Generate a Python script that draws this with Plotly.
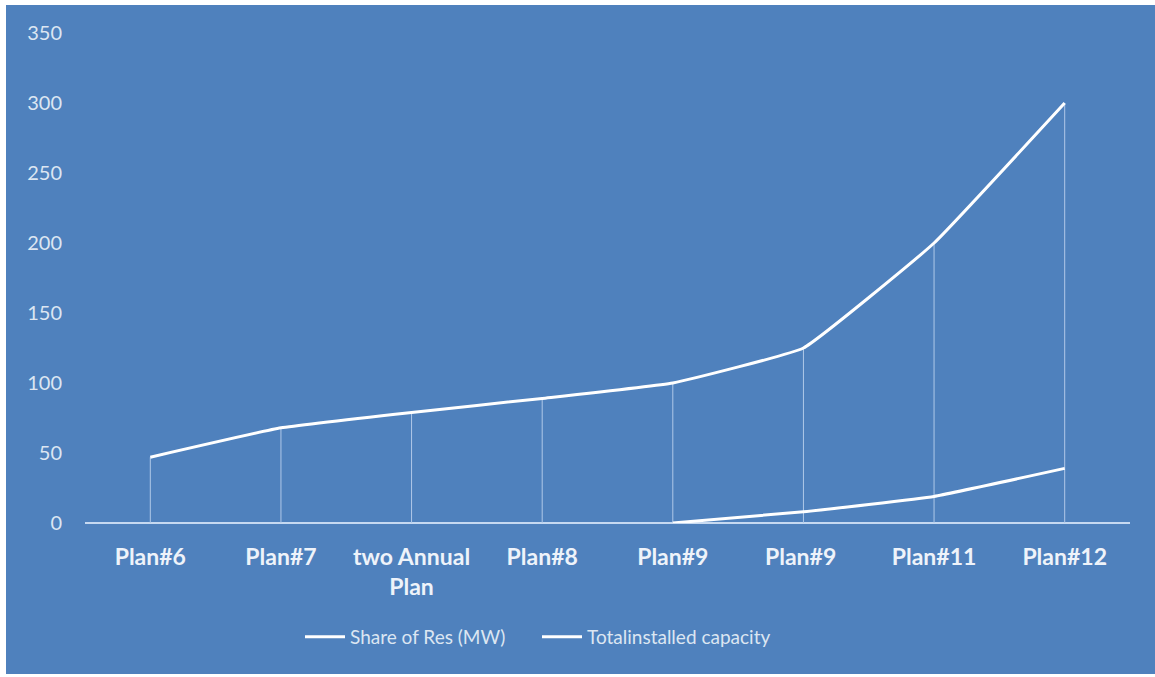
import plotly.graph_objects as go

categories = ["Plan#6", "Plan#7", "two Annual<br>Plan", "Plan#8", "Plan#9", "Plan#9 ", "Plan#11", "Plan#12"]
share_res = [47, 68, 79, 89, 100, 125, 200, 300]
total_installed = [None, None, None, None, 0, 8, 19, 39]
y_ticks = [0, 50, 100, 150, 200, 250, 300, 350]

BLUE = "#4f81bd"
LIGHT = "#c6d9f1"
FONT = "Lato"

idx = list(range(len(categories)))

# drop lines from the highest series value down to the axis
drop_x, drop_y = [], []
for i in idx:
    vals = [v for v in (share_res[i], total_installed[i]) if v is not None]
    drop_x += [i, i, None]
    drop_y += [0, max(vals), None]

fig = go.Figure()
fig.add_trace(go.Scatter(x=drop_x, y=drop_y, mode="lines",
                         line=dict(color="#b0c8e8", width=1),
                         showlegend=False, hoverinfo="skip"))
fig.add_trace(go.Scatter(x=idx, y=share_res, mode="lines", name="Share of Res (MW)",
                         line=dict(color="white", width=3, shape="spline", smoothing=0.3)))
fig.add_trace(go.Scatter(x=idx, y=total_installed, mode="lines", name="Totalinstalled capacity",
                         line=dict(color="white", width=3, shape="spline", smoothing=0.3)))

L, R, T, B = 85, 25, 33, 154
W, H = 1155, 677
pw, ph = W - L - R, H - T - B

fig.update_layout(
    width=W, height=H,
    margin=dict(l=L, r=R, t=T, b=B),
    paper_bgcolor=BLUE, plot_bgcolor=BLUE,
    font=dict(family=FONT, color="#dce6f2", size=19),
    xaxis=dict(range=[-0.5, len(categories) - 0.5], tickmode="array", tickvals=idx,
               ticktext=["<b>%s</b>" % c for c in categories], showgrid=False, zeroline=False,
               showline=False, ticks="", ticklabelstandoff=18,
               tickfont=dict(family=FONT, size=23, color="#eef3fa")),
    yaxis=dict(range=[0, 350], tickvals=y_ticks, showgrid=False, zeroline=True,
               zerolinecolor=LIGHT, zerolinewidth=2, showline=False, ticks="",
               ticklabelstandoff=22, tickfont=dict(family=FONT, size=20, color="#dce6f2")),
    legend=dict(orientation="h", x=(300 - L) / pw, xanchor="left", y=-(637 - (T + ph)) / ph,
                yanchor="middle", font=dict(family=FONT, size=19, color="#dce6f2"),
                bgcolor="rgba(0,0,0,0)", entrywidth=182, entrywidthmode="pixels",
                itemwidth=40, tracegroupgap=0),
    showlegend=True,
    shapes=[
        dict(type="rect", xref="paper", yref="paper", x0=-L / pw, x1=(6 - L) / pw,
             y0=-B / ph, y1=(ph + T) / ph, fillcolor="white", line_width=0, layer="above"),
        dict(type="rect", xref="paper", yref="paper", x0=-L / pw, x1=(pw + R) / pw,
             y0=(ph + T - 5) / ph, y1=(ph + T) / ph, fillcolor="white", line_width=0, layer="above"),
        dict(type="rect", xref="paper", yref="paper", x0=-L / pw, x1=(pw + R) / pw,
             y0=-B / ph, y1=(3 - B) / ph, fillcolor="white", line_width=0, layer="above"),
    ],
)

fig.write_html("out.html", config={"displayModeBar": False},
               post_script="document.body.style.margin='0px';document.body.style.overflow='hidden';")
